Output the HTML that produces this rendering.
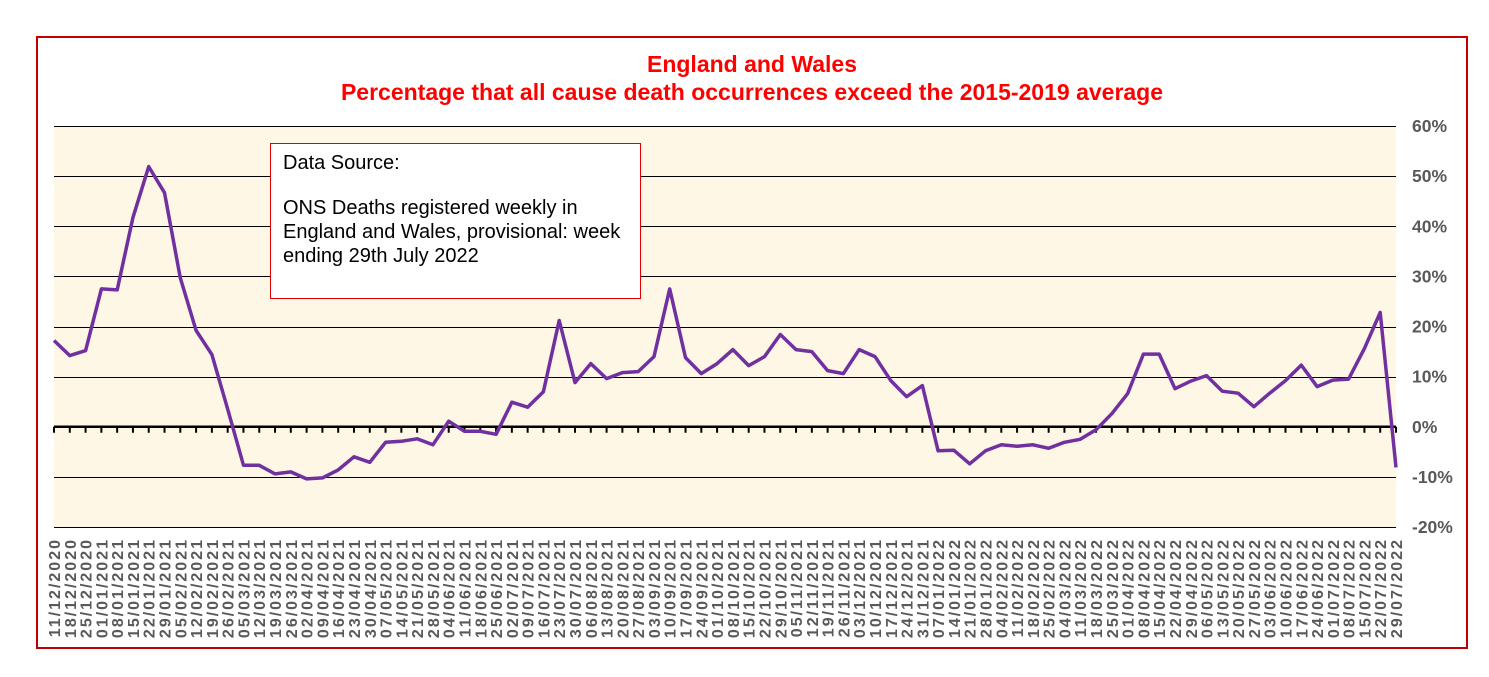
<!DOCTYPE html>
<html><head><meta charset="utf-8"><style>
html,body{margin:0;padding:0;background:#fff;}
svg{display:block;font-family:"Liberation Sans",Arial,sans-serif;}
</style></head><body>
<svg id="chart" width="1489" height="677">
<rect x="37" y="37" width="1430" height="611" fill="#fff" stroke="#c00000" stroke-width="2"/>
<text x="752" y="72" text-anchor="middle" fill="#ff0000" font-weight="bold" font-size="23">England and Wales</text>
<text x="752" y="100" text-anchor="middle" fill="#ff0000" font-weight="bold" font-size="23">Percentage that all cause death occurrences exceed the 2015-2019 average</text>
<rect x="54" y="126" width="1342" height="401" fill="#fff7e5"/>
<g id="grid"></g><g id="ylabels"></g><g id="xaxis"></g><g id="xlabels"></g>
<polyline id="line" fill="none" stroke="#7030a0" stroke-width="3.5" stroke-linejoin="round"/>
<g>
<rect x="270.5" y="143.5" width="370" height="155" fill="#fff" stroke="#e00000" stroke-width="1"/>
<text x="283" y="169" font-size="20" fill="#000">Data Source:</text>
<text x="283" y="214" font-size="20" fill="#000">ONS Deaths registered weekly in</text>
<text x="283" y="238" font-size="20" fill="#000">England and Wales, provisional: week</text>
<text x="283" y="262" font-size="20" fill="#000">ending 29th July 2022</text>
</g>
</svg>
<script>
const categories = ["11/12/2020","18/12/2020","25/12/2020","01/01/2021","08/01/2021","15/01/2021","22/01/2021","29/01/2021","05/02/2021","12/02/2021","19/02/2021","26/02/2021","05/03/2021","12/03/2021","19/03/2021","26/03/2021","02/04/2021","09/04/2021","16/04/2021","23/04/2021","30/04/2021","07/05/2021","14/05/2021","21/05/2021","28/05/2021","04/06/2021","11/06/2021","18/06/2021","25/06/2021","02/07/2021","09/07/2021","16/07/2021","23/07/2021","30/07/2021","06/08/2021","13/08/2021","20/08/2021","27/08/2021","03/09/2021","10/09/2021","17/09/2021","24/09/2021","01/10/2021","08/10/2021","15/10/2021","22/10/2021","29/10/2021","05/11/2021","12/11/2021","19/11/2021","26/11/2021","03/12/2021","10/12/2021","17/12/2021","24/12/2021","31/12/2021","07/01/2022","14/01/2022","21/01/2022","28/01/2022","04/02/2022","11/02/2022","18/02/2022","25/02/2022","04/03/2022","11/03/2022","18/03/2022","25/03/2022","01/04/2022","08/04/2022","15/04/2022","22/04/2022","29/04/2022","06/05/2022","13/05/2022","20/05/2022","27/05/2022","03/06/2022","10/06/2022","17/06/2022","24/06/2022","01/07/2022","08/07/2022","15/07/2022","22/07/2022","29/07/2022"];
const excessPct = [17.2,14.2,15.2,27.5,27.3,41.7,51.9,46.7,29.7,19.2,14.4,3.5,-7.7,-7.7,-9.4,-9.0,-10.4,-10.2,-8.6,-6.0,-7.1,-3.1,-2.9,-2.4,-3.6,1.1,-0.9,-0.9,-1.5,4.9,3.9,7.0,21.2,8.8,12.6,9.6,10.8,11.0,14.0,27.5,13.8,10.6,12.6,15.4,12.2,14.0,18.4,15.4,15.0,11.2,10.6,15.4,14.0,9.2,6.0,8.2,-4.8,-4.7,-7.4,-4.8,-3.6,-3.9,-3.6,-4.3,-3.1,-2.5,-0.6,2.6,6.6,14.5,14.5,7.6,9.1,10.2,7.1,6.7,4.0,6.7,9.2,12.3,8.0,9.3,9.5,15.6,22.8,-8.1];
const yTicks = [60,50,40,30,20,10,0,-10,-20];
const yTickLabels = ["60%","50%","40%","30%","20%","10%","0%","-10%","-20%"];

const X0=54,X1=1396,Y0=126,Y1=527,YMAX=60,YMIN=-20;
const xs=i=>X0+i*(X1-X0)/(categories.length-1);
const ys=v=>Y0+(YMAX-v)*(Y1-Y0)/(YMAX-YMIN);
const NS="http://www.w3.org/2000/svg";
const grid=document.getElementById('grid'),yl=document.getElementById('ylabels'),xa=document.getElementById('xaxis'),xl=document.getElementById('xlabels');
yTicks.forEach((t,k)=>{
  if(t!==0){
    const l=document.createElementNS(NS,'line');
    l.setAttribute('x1',X0);l.setAttribute('x2',X1);l.setAttribute('y1',Math.round(ys(t))+0.5);l.setAttribute('y2',Math.round(ys(t))+0.5);
    l.setAttribute('stroke','#000');l.setAttribute('stroke-width','1');
    
    
    grid.appendChild(l);
  }
  const tx=document.createElementNS(NS,'text');
  tx.setAttribute('x',1412);tx.setAttribute('y',ys(t)+6);tx.setAttribute('font-size','17.5');tx.setAttribute('font-weight','bold');tx.setAttribute('fill','#595959');
  tx.textContent=yTickLabels[k];
  
  
  yl.appendChild(tx);
});
const z=document.createElementNS(NS,'line');
z.setAttribute('x1',X0);z.setAttribute('x2',X1);z.setAttribute('y1',ys(0));z.setAttribute('y2',ys(0));z.setAttribute('stroke','#000');z.setAttribute('stroke-width','2.5');


xa.appendChild(z);
categories.forEach((c,i)=>{
  const t=document.createElementNS(NS,'line');
  t.setAttribute('x1',xs(i));t.setAttribute('x2',xs(i));t.setAttribute('y1',ys(0));t.setAttribute('y2',ys(0)+6);t.setAttribute('stroke','#000');t.setAttribute('stroke-width','2');
  
  
  xa.appendChild(t);
  const tx=document.createElementNS(NS,'text');
  tx.setAttribute('transform','translate('+(xs(i)+6)+',538) rotate(-90)');
  tx.setAttribute('text-anchor','end');tx.setAttribute('font-size','16');tx.setAttribute('letter-spacing','2');tx.setAttribute('font-weight','bold');tx.setAttribute('fill','#595959');
  tx.textContent=c;
  
  
  xl.appendChild(tx);
});
document.getElementById('line').setAttribute('points',excessPct.map((v,i)=>xs(i).toFixed(1)+','+ys(v).toFixed(1)).join(' '));
</script>
</body></html>
